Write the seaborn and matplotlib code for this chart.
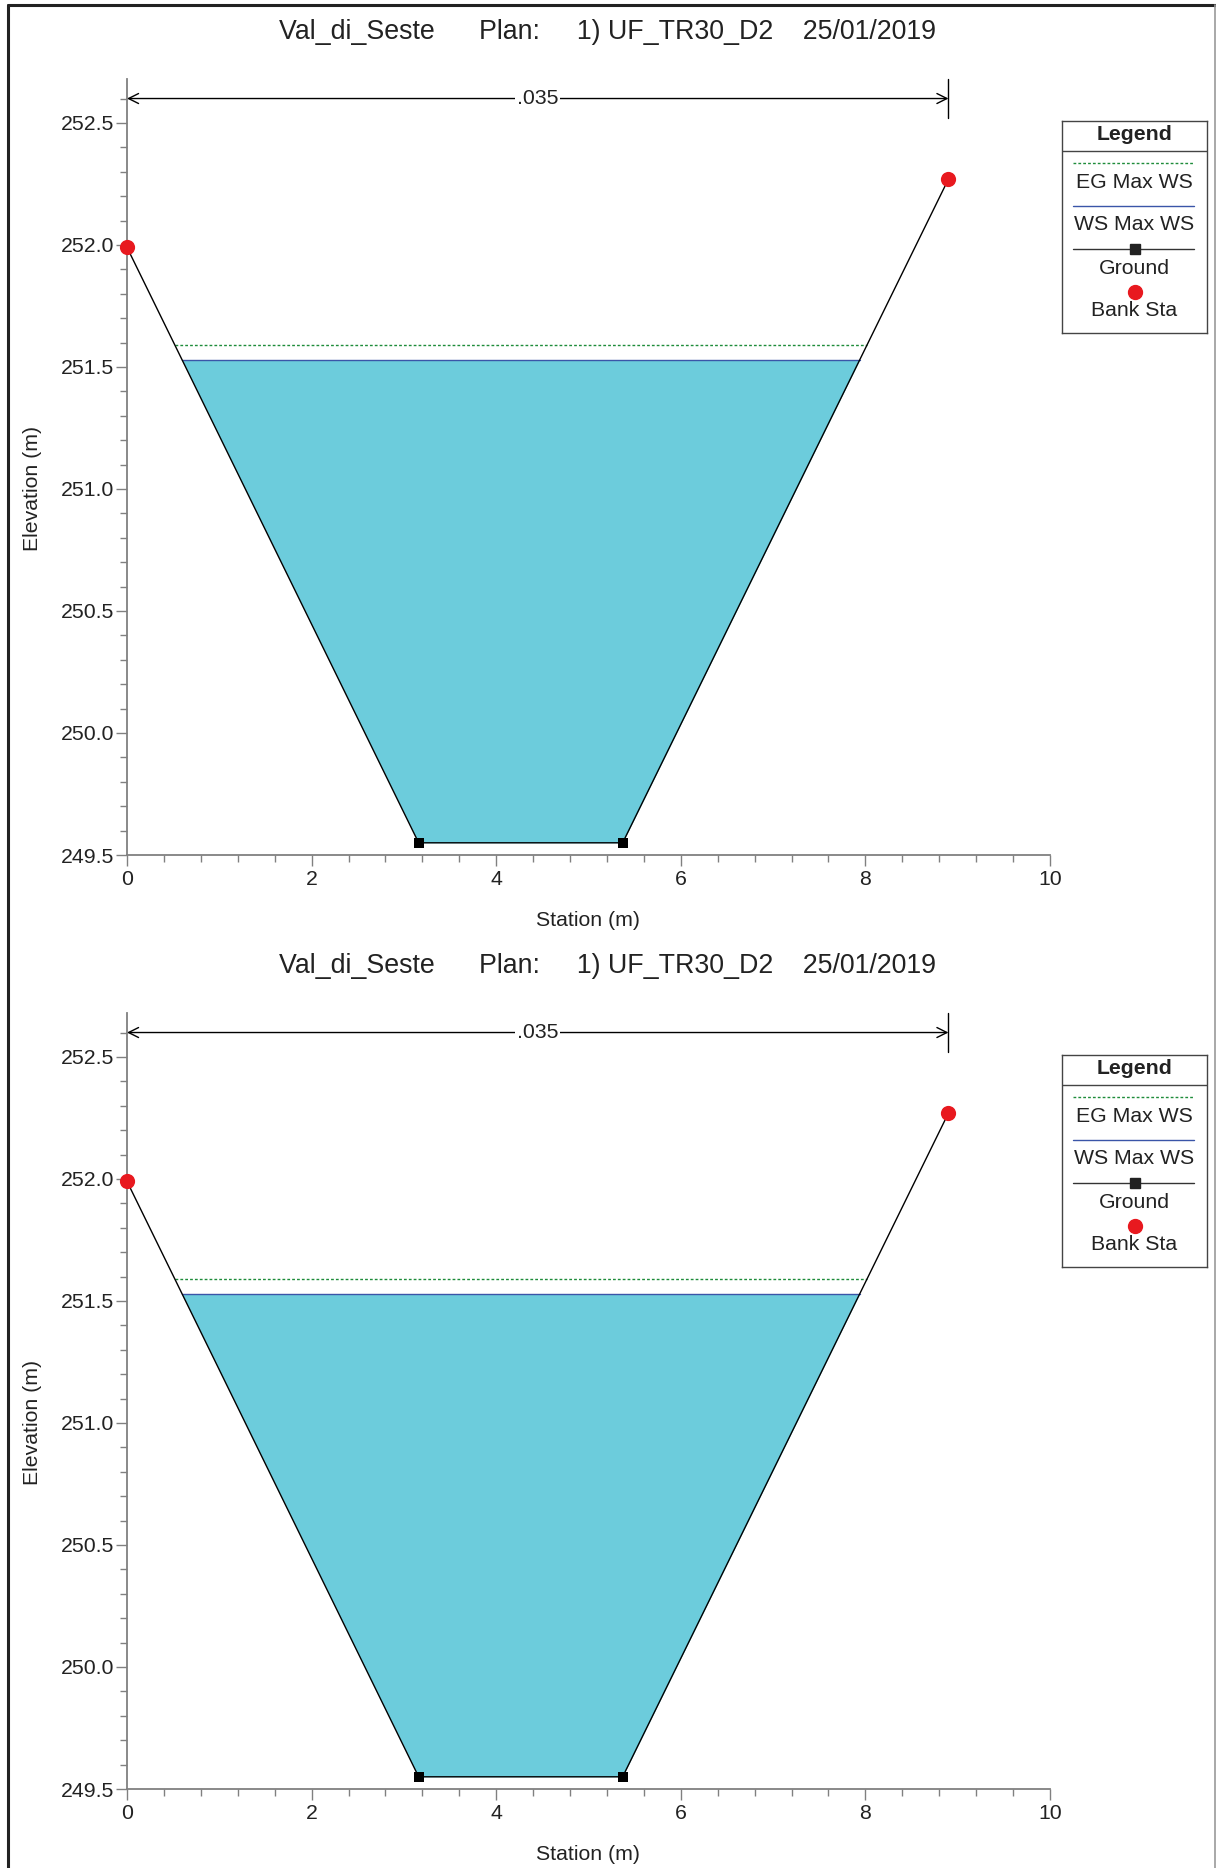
import numpy as np
import seaborn as sns
import matplotlib.pyplot as plt
from matplotlib.lines import Line2D
from matplotlib.ticker import MultipleLocator

# cross section data (same section shown in both panels)
station = [0.0, 3.16, 5.37, 8.9]
ground = [251.99, 249.55, 249.55, 252.27]
bank_sta = [0.0, 8.9]
bank_elev = [251.99, 252.27]
ws_max = 251.53
eg_max = 251.59
n_label = ".035"
title = "Val_di_Seste      Plan:     1) UF_TR30_D2    25/01/2019"
legend_items = ["EG Max WS", "WS Max WS", "Ground", "Bank Sta"]

sns.set_theme(style="white")
plt.rcParams['font.family'] = ['Liberation Sans', 'DejaVu Sans']

WATER = "#6CCCDC"
WS_COL = "#3A55A8"
EG_COL = "#1E8C3A"
BANK_COL = "#E8191F"
TXT = "#222222"
SPINE = "#808080"
FS = 15.3


def crossing(level, xs, ys):
    # left and right intersection of a level with the ground line
    i_min = int(np.argmin(ys))
    xl = np.interp(level, ys[:i_min + 1][::-1], xs[:i_min + 1][::-1])
    xr = np.interp(level, ys[i_min:], xs[i_min:])
    return xl, xr


def draw_panel(ax, lax):
    xs = np.array(station)
    ys = np.array(ground)

    ax.fill_between(xs, ys, ws_max, where=ys < ws_max, interpolate=True,
                    color=WATER, linewidth=0, zorder=1)
    xl, xr = crossing(ws_max, xs, ys)
    ax.plot([xl, xr], [ws_max, ws_max], color=WS_COL, lw=1.0, zorder=2)
    xl, xr = crossing(eg_max, xs, ys)
    ax.plot([xl, xr], [eg_max, eg_max], color=EG_COL, lw=1.0,
            ls=(0, (2, 1.5)), zorder=2)

    sns.lineplot(x=station, y=ground, ax=ax, color="black", lw=1.0,
                 marker="s", markersize=7.5, markeredgewidth=0, sort=False,
                 zorder=3)
    sns.scatterplot(x=bank_sta, y=bank_elev, ax=ax, color=BANK_COL, s=120,
                    linewidth=0, zorder=4, clip_on=False)

    ax.set_xlim(0, 10)
    ax.set_ylim(249.5, 252.68)
    ax.xaxis.set_major_locator(MultipleLocator(2))
    ax.xaxis.set_minor_locator(MultipleLocator(0.4))
    ax.yaxis.set_minor_locator(MultipleLocator(0.1))
    ax.set_yticks([249.5, 250.0, 250.5, 251.0, 251.5, 252.0, 252.5])
    ax.yaxis.set_major_formatter(plt.FuncFormatter(lambda v, p: f"{v:.1f}"))
    ax.tick_params(which="major", direction="out", length=8, width=1,
                   color=SPINE, labelsize=FS, labelcolor=TXT, pad=3,
                   left=True, bottom=True)
    ax.tick_params(axis="y", which="major", pad=1)
    ax.tick_params(which="minor", direction="out", length=5, width=1,
                   color=SPINE, left=True, bottom=True)
    for s in ["top", "right"]:
        ax.spines[s].set_visible(False)
    for s in ["left", "bottom"]:
        ax.spines[s].set_color(SPINE)
        ax.spines[s].set_linewidth(1.3)
    ax.grid(False)

    ax.set_xlabel("Station (m)", fontsize=FS, color=TXT, labelpad=16)
    ax.set_ylabel("Elevation (m)", fontsize=FS, color=TXT)
    ax.yaxis.set_label_coords(-0.092, 0.473)
    ax.text(0.521, 1.061, title, transform=ax.transAxes, ha="center",
            va="center", fontsize=19.3, color=TXT)

    # Manning's n span annotation
    y_arr = 252.6
    ax.annotate("", xy=(bank_sta[0], y_arr), xytext=(bank_sta[1], y_arr),
                arrowprops=dict(arrowstyle="<->,head_length=0.6,head_width=0.3",
                                color="black", lw=1.0, shrinkA=0, shrinkB=0),
                annotation_clip=False)
    ax.plot([bank_sta[1], bank_sta[1]], [252.52, 252.68], color="black",
            lw=1.0, clip_on=False)
    ax.text(np.mean(bank_sta), y_arr, n_label, ha="center", va="center",
            fontsize=FS, color=TXT,
            bbox=dict(facecolor="white", edgecolor="none", pad=1))

    # legend box
    lax.set_xlim(0, 145)
    lax.set_ylim(212, 0)
    lax.set_xticks([])
    lax.set_yticks([])
    for s in lax.spines.values():
        s.set_color("#444444")
        s.set_linewidth(1.0)
    lax.text(72.5, 14, "Legend", ha="center", va="center", fontsize=FS,
             fontweight="bold", color=TXT)
    lax.plot([0, 145], [30, 30], color="#444444", lw=1.0)
    lax.plot([11, 132], [42, 42], color=EG_COL, lw=1.0, ls=(0, (2, 1.5)))
    lax.text(72.5, 61, legend_items[0], ha="center", va="center",
             fontsize=FS, color=TXT)
    lax.plot([11, 132], [85, 85], color=WS_COL, lw=1.0)
    lax.text(72.5, 104, legend_items[1], ha="center", va="center",
             fontsize=FS, color=TXT)
    lax.plot([11, 132], [128, 128], color="#333333", lw=1.0)
    lax.plot([72.5], [128], marker="s", color="#222222", markersize=7)
    lax.text(72.5, 147, legend_items[2], ha="center", va="center",
             fontsize=FS, color=TXT)
    lax.plot([72.5], [171], marker="o", color=BANK_COL, markersize=10)
    lax.text(72.5, 190, legend_items[3], ha="center", va="center",
             fontsize=FS, color=TXT)


W, H = 1216, 1868
fig = plt.figure(figsize=(W / 100, H / 100), dpi=100)

for k in range(2):
    off = k * 934
    ax = fig.add_axes([127 / W, 1 - (855 + off) / H, 923 / W, 776 / H])
    lax = fig.add_axes([1062 / W, 1 - (333 + off) / H, 145 / W, 212 / H])
    draw_panel(ax, lax)

# outer frame
fig.add_artist(Line2D([8 / W, 8 / W], [0, 1 - 5 / H], color="#222222", lw=2.2,
                      transform=fig.transFigure))
fig.add_artist(Line2D([8 / W, 1], [1 - 5 / H, 1 - 5 / H], color="#222222",
                      lw=2.2, transform=fig.transFigure))
fig.add_artist(Line2D([1215 / W, 1215 / W], [0, 1 - 5 / H], color="#999999",
                      lw=1.2, transform=fig.transFigure))

fig.savefig("out.png", dpi=100)
